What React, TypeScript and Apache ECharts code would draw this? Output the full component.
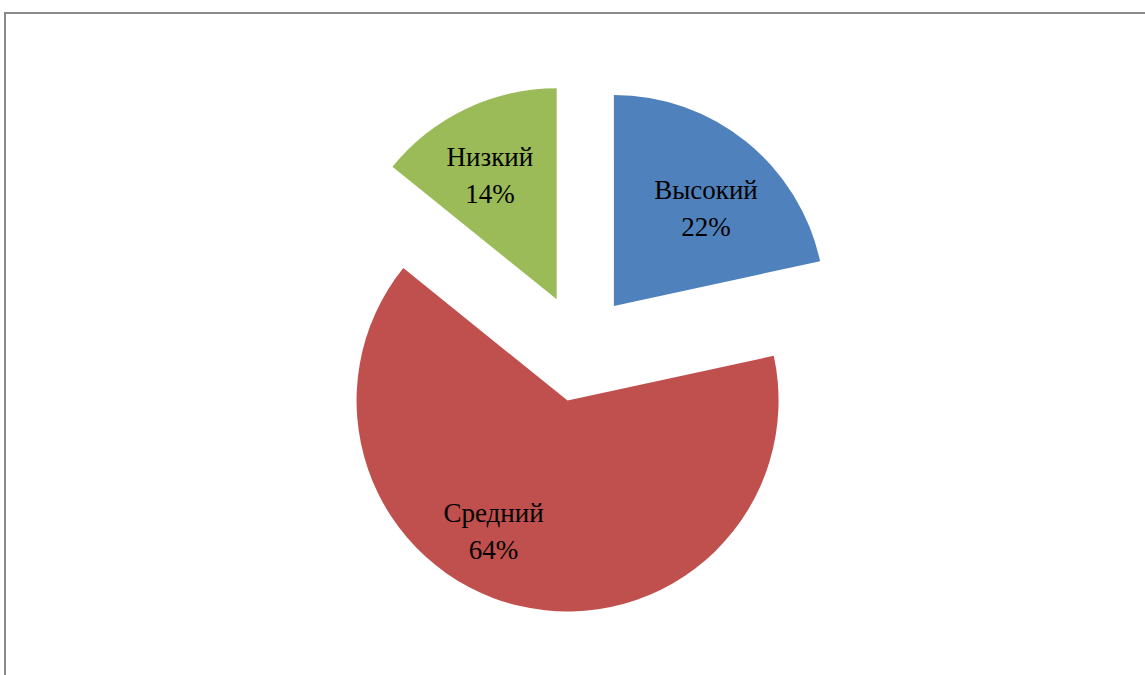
import React, { useEffect, useRef } from "react";
import * as echarts from "echarts";

const categories = ["Высокий", "Средний", "Низкий"];
const values = [21.6, 64.2, 14.2];
const colors = ["#4F81BD", "#C0504D", "#9BBB59"];
const labelShift: [number, number][] = [
  [24, -13],
  [-49, 25],
  [-20, -26],
];

export default function App() {
  const ref = useRef<HTMLDivElement>(null);
  useEffect(() => {
    document.body.style.margin = "0";
    const chart = echarts.init(ref.current!, null, { renderer: "svg" });
    chart.setOption({
      animation: false,
      backgroundColor: "#ffffff",
      graphic: [
        {
          type: "rect",
          shape: { x: 5, y: 13, width: 1300, height: 800 },
          style: { fill: "none", stroke: "#8a8a8a", lineWidth: 2 },
          silent: true,
        },
      ],
      series: [
        {
          type: "pie",
          center: [580, 348],
          radius: [0, 211],
          startAngle: 90,
          clockwise: true,
          selectedMode: "multiple",
          selectedOffset: 54,
          avoidLabelOverlap: false,
          emphasis: { disabled: true },
          label: {
            show: true,
            position: "inside",
            formatter: (p: any) => `${p.name}\n${Math.round(p.value)}%`,
            fontFamily: "Liberation Serif",
            fontSize: 27,
            lineHeight: 37,
            color: "#000000",
            align: "center",
          },
          labelLine: { show: false },
          labelLayout: (p: any) => ({
            dx: labelShift[p.dataIndex][0],
            dy: labelShift[p.dataIndex][1],
          }),
          data: categories.map((name, i) => ({
            name,
            value: values[i],
            selected: true,
            itemStyle: { color: colors[i], borderWidth: 0 },
            select: { itemStyle: { color: colors[i], borderWidth: 0 } },
          })),
        },
      ],
    });
    return () => chart.dispose();
  }, []);
  return <div ref={ref} style={{ width: 1145, height: 675 }} />;
}
